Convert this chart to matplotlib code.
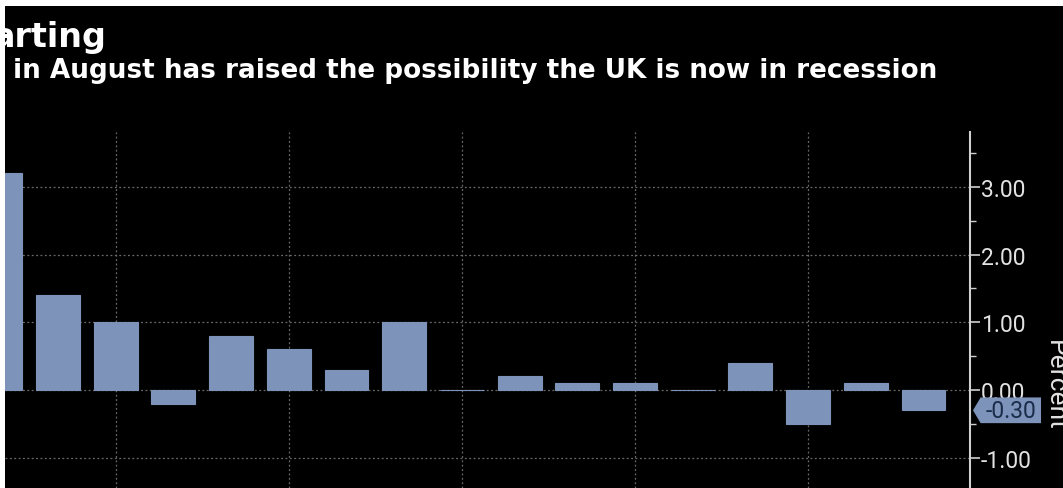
import numpy as np
import matplotlib as mpl
mpl.use('Agg')
import matplotlib.pyplot as plt
from matplotlib.patches import Rectangle, Polygon
from matplotlib.ticker import MultipleLocator

# monthly GDP change, percent (first bar is cut off at the left edge)
values = [3.2, 1.4, 1.0, -0.2, 0.8, 0.6, 0.3, 1.0, 0.0, 0.2, 0.1, 0.1, 0.0, 0.4, -0.5, 0.1, -0.3]
yticks = [-1.0, 0.0, 1.0, 2.0, 3.0]
title = 'arting'
subtitle = 'in August has raised the possibility the UK is now in recession'
ylabel = 'Percent'

bar_color = '#7d93b9'
text_color = '#e2e2e2'
grid_color = '#6a6a6a'

W, H = 1063, 489
fig = plt.figure(figsize=(W / 100, H / 100), dpi=100, facecolor='white')
# black panel inside a thin white border (top and left)
fig.patches.append(Rectangle((5 / W, 0), 1 - 5 / W, 1 - 7 / H, transform=fig.transFigure,
                             facecolor='black', edgecolor='none', zorder=-10))

ax = fig.add_axes([5 / W, 0, 965 / W, (H - 133) / H])
ax.set_facecolor('black')

x = np.arange(len(values))
ax.bar(x, values, width=0.76, color=bar_color, edgecolor=bar_color, linewidth=0.8, zorder=3)

ax.set_xlim(0.082, 16.806)
ax.set_ylim(-1.448, 3.811)

for s in ['top', 'bottom', 'left']:
    ax.spines[s].set_visible(False)
ax.spines['right'].set_color('#d0d0d0')
ax.spines['right'].set_linewidth(1.5)

ax.yaxis.tick_right()
ax.set_yticks(yticks)
ax.set_yticklabels(['%.2f' % v for v in yticks], fontfamily='Roboto', fontsize=16.5, color=text_color)
ax.yaxis.set_minor_locator(MultipleLocator(0.5))
ax.tick_params(axis='y', which='major', length=7, width=1.2, color='#d0d0d0', pad=1)
ax.tick_params(axis='y', which='minor', length=4, width=1.0, color='#d0d0d0')

ax.set_xticks(np.arange(2, len(values), 3))
ax.set_xticklabels([])
ax.tick_params(axis='x', length=0)

ax.grid(True, axis='both', which='major', color=grid_color, linestyle=(0, (1.5, 2)), linewidth=0.9, zorder=1)
ax.set_axisbelow(True)

# last value tag on the right axis
last = values[-1]
tr = ax.get_yaxis_transform()
tag = Polygon([[1.0031, last], [1.011, last + 0.19], [1.0736, last + 0.19],
               [1.0736, last - 0.19], [1.011, last - 0.19]], closed=True,
              transform=tr, facecolor=bar_color, edgecolor='none', clip_on=False, zorder=6)
ax.add_patch(tag)
ax.text(1.0425, last, '%.2f' % last, transform=tr, ha='center', va='center',
        fontfamily='Roboto', fontsize=16.5, color='#1b2b4a', zorder=7, clip_on=False)

fig.text(1043 / W, 1 - 385 / H, ylabel, rotation=270, ha='left', va='center',
         fontfamily='Roboto', fontsize=19, color=text_color)

fig.text(107 / W, 1 - 47 / H, title, ha='right', va='baseline',
         fontfamily='DejaVu Sans', fontweight='bold', fontsize=24, color='white')
fig.text(13 / W, 1 - 78 / H, subtitle, ha='left', va='baseline',
         fontfamily='DejaVu Sans', fontweight='bold', fontsize=18.9, color='white')

fig.savefig('out.png', dpi=100, facecolor='white')
